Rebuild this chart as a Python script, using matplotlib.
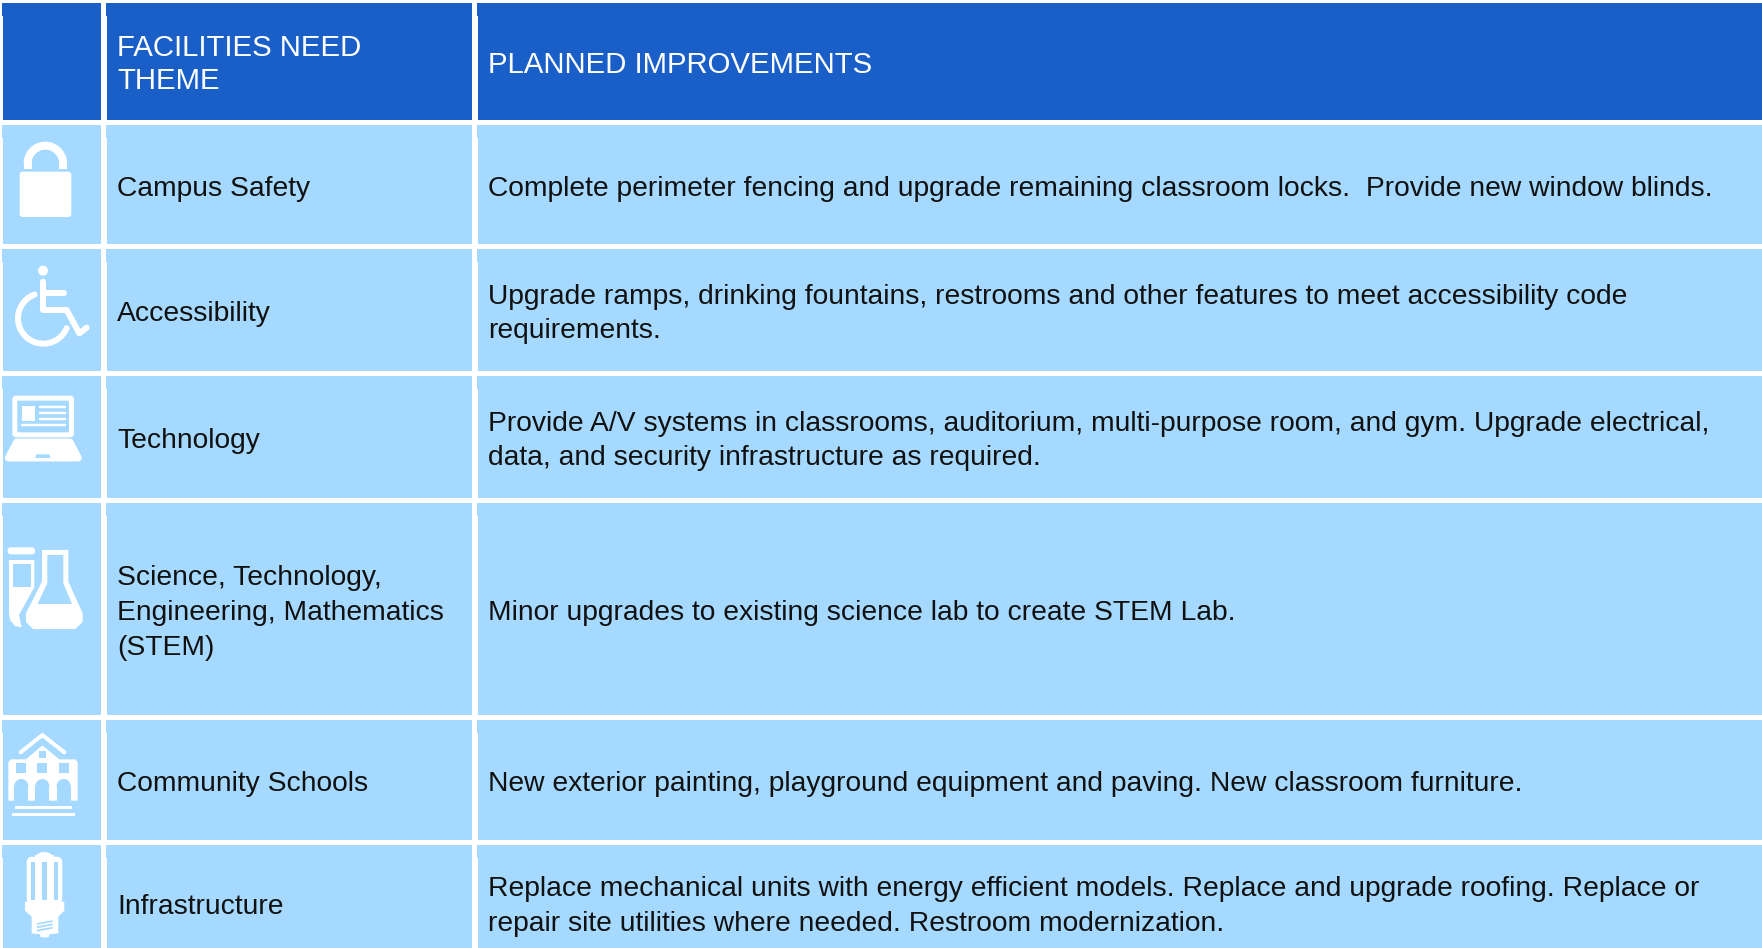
#!/usr/bin/env python3
import numpy as np
import matplotlib
matplotlib.use("Agg")
import matplotlib.pyplot as plt
from matplotlib.patches import Rectangle, Polygon, FancyBboxPatch, Circle

plt.rcParams["font.family"] = ["Liberation Sans", "DejaVu Sans"]

HEADERS = ["FACILITIES NEED\nTHEME", "PLANNED IMPROVEMENTS"]
THEMES = ["Campus Safety", "Accessibility", "Technology",
          "Science, Technology,\nEngineering, Mathematics\n(STEM)",
          "Community Schools", "Infrastructure"]
PLANS = ["Complete perimeter fencing and upgrade remaining classroom locks.  Provide new window blinds.",
         "Upgrade ramps, drinking fountains, restrooms and other features to meet accessibility code\nrequirements.",
         "Provide A/V systems in classrooms, auditorium, multi-purpose room, and gym. Upgrade electrical,\ndata, and security infrastructure as required.",
         "Minor upgrades to existing science lab to create STEM Lab.",
         "New exterior painting, playground equipment and paving. New classroom furniture.",
         "Replace mechanical units with energy efficient models. Replace and upgrade roofing. Replace or\nrepair site utilities where needed. Restroom modernization."]

# bordes en px de la imagen
COL_X = [(3, 101), (107, 472), (478, 1762)]
ROW_Y = [(3, 120), (125, 244), (249, 371), (376, 498), (503, 715), (720, 840), (845, 960)]
BLUE = "#1A5FC7"
LIGHT = "#A5D9FF"
FS_HEAD = 21.2
FS_BODY = 20.35

fig = plt.figure(figsize=(17.62, 9.48), dpi=100)
ax = fig.add_axes([0, 0, 1, 1])
ax.set_xlim(0, 1762)
ax.set_ylim(948, 0)
ax.axis("off")

for r, (y0, y1) in enumerate(ROW_Y):
    c = BLUE if r == 0 else LIGHT
    for x0, x1 in COL_X:
        ax.add_patch(Rectangle((x0, y0), x1 - x0, y1 - y0, fc=c, ec="none"))
        # escalón de 1px arriba a la izquierda de cada celda
        ax.add_patch(Rectangle((x0 - 1, y0), 1.5, 13, fc=c, ec="none"))


def put(x, row, s, color, fs, pitch, dy=4):
    yc = sum(ROW_Y[row]) / 2 + dy
    ax.text(x, yc, s, color=color, fontsize=fs, va="center", ha="left", linespacing=pitch)


put(117, 0, HEADERS[0], "white", FS_HEAD, 1.23, dy=3)
put(488, 0, HEADERS[1], "white", FS_HEAD, 1.23, dy=3)
for i, (t, p) in enumerate(zip(THEMES, PLANS)):
    put(117, i + 1, t, "#111111", FS_BODY, 1.44)
    put(488, i + 1, p, "#111111", FS_BODY, 1.44)


def z(pts, off):
    return [(x / 3, off + y / 3) for x, y in pts]


def poly(pts, off, fc="white", lw=0.0):
    ax.add_patch(Polygon(z(pts, off), closed=True, fc=fc, ec=fc, lw=lw, joinstyle="round"))


def line(pts, off, w, c="white", cap="round"):
    p = np.array(z(pts, off))
    ax.plot(p[:, 0], p[:, 1], color=c, lw=w * 0.72, solid_capstyle=cap, solid_joinstyle="round")


def rrect(x0, y0, x1, y1, off, fc="white", rad=2.0):
    (a, b), (c, d) = z([(x0, y0), (x1, y1)], off)
    ax.add_patch(FancyBboxPatch((a + rad, b + rad), c - a - 2 * rad, d - b - 2 * rad,
                                boxstyle=f"round,pad={rad},rounding_size={rad}", fc=fc, ec="none"))


def box(x0, y0, x1, y1, off, fc="white"):
    (a, b), (c, d) = z([(x0, y0), (x1, y1)], off)
    ax.add_patch(Rectangle((a, b), c - a, d - b, fc=fc, ec="none"))


def arc(cx, cy, r, t0, t1, off, w):
    t = np.radians(np.linspace(t0, t1, 60))
    line(np.c_[cx + r * np.cos(t), cy - r * np.sin(t)], off, w)


# candado
rrect(59, 155, 214, 291, 120, rad=3)
arc(136, 130, 53, 0, 180, 120, 8)
box(71, 130, 95, 146, 120)
box(178, 130, 202, 146, 120)

# silla de ruedas
ax.add_patch(Circle(z([(129, 452)], 120)[0], 5, fc="white", ec="none"))
line([(129, 485), (129, 570), (200, 570), (238, 640), (260, 623)], 120, 6)
line([(129, 520), (192, 520)], 120, 6)
arc(130, 595, 76, 110, 337, 120, 6)

# portátil
rrect(37, 47, 222, 172, 380, rad=4)
rrect(52, 62, 207, 157, 380, fc=LIGHT, rad=1)
box(65, 77, 105, 122, 380)
for yy in (80, 100, 117):
    line([(120, yy), (194, yy)], 380, 2.5)
line([(67, 135), (194, 135)], 380, 2.5)
poly([(50, 186), (210, 186), (235, 234), (25, 234)], 380, lw=5)
poly([(110, 223), (148, 223), (152, 234), (105, 234)], 380, fc=LIGHT)

# tubo de ensayo y matraz
rrect(23, 502, 105, 523, 380, rad=3)
poly([(27, 540), (103, 540), (103, 622), (72, 678), (57, 705), (65, 742),
      (45, 738), (30, 720), (27, 700)], 380)
box(38, 552, 92, 622, 380, fc=LIGHT)
poly([(128, 512), (203, 512), (203, 605), (246, 700), (246, 725), (225, 745),
      (100, 745), (80, 725), (80, 700), (128, 605)], 380, lw=1)
poly([(142, 525), (190, 525), (190, 610), (216, 672), (113, 672), (142, 610)], 380, fc=LIGHT)

# edificio
line([(62, 157), (127, 105), (193, 157)], 700, 4)
poly([(25, 302), (25, 186), (33, 178), (78, 178), (127, 136), (178, 178),
      (225, 178), (233, 186), (233, 302)], 700)
for cx in (64, 127, 191):
    box(cx - 21, 258, cx + 21, 303, 700, fc=LIGHT)
    (ax_, ay_), = z([(cx, 258)], 700)
    ax.add_patch(Circle((ax_, ay_), 7, fc=LIGHT, ec="none"))
for cx in (62, 127, 192):
    box(cx - 15, 190, cx + 15, 220, 700, fc=LIGHT)
box(116, 153, 137, 174, 700, fc=LIGHT)
box(45, 318, 215, 327, 700)
box(36, 338, 224, 347, 700)

# bombilla
rrect(80, 470, 187, 612, 700, rad=6)
arc(133, 490, 28, 20, 160, 700, 4)
box(105, 465, 162, 490, 700)
for a, b in ((93, 105), (125, 142), (163, 175)):
    box(a, 487, b, 600, 700, fc=LIGHT)
poly([(75, 605), (193, 605), (193, 632), (175, 650), (175, 700), (148, 703),
      (146, 712), (122, 712), (120, 703), (95, 700), (95, 650), (75, 632)], 700)
for yy in (672, 682, 692):
    line([(111, yy), (158, yy - 9)], 700, 1.7, c=LIGHT, cap="butt")

fig.savefig("out.png", dpi=100)
